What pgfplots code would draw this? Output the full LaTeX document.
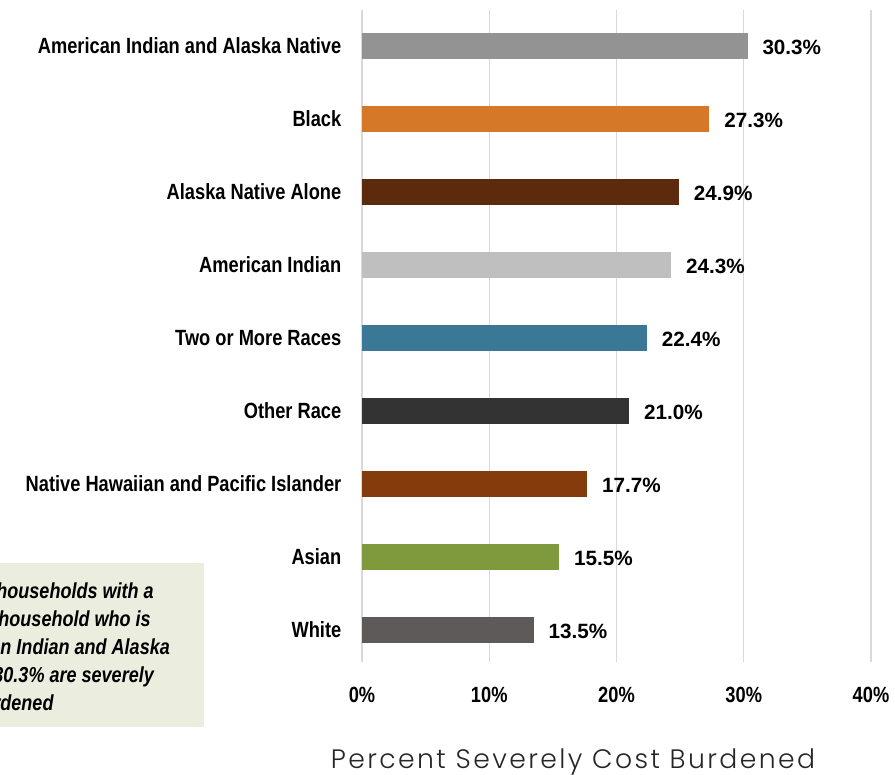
\documentclass[border=0pt]{standalone}
\usepackage{fontspec}
\setmainfont{Liberation Sans}[FakeStretch=0.83]
\newfontfamily\vfont{Liberation Sans}
\IfFontExistsTF{Poppins Light}{\newfontfamily\thinfont{Poppins Light}[LetterSpace=9]}{\newfontfamily\thinfont{Poppins}[LetterSpace=9]}
\usepackage{pgfplots}
\pgfplotsset{compat=1.18}
\definecolor{cAIAN}{HTML}{939393}
\definecolor{cBlack}{HTML}{D57828}
\definecolor{cANA}{HTML}{5C2B0D}
\definecolor{cAI}{HTML}{BFBFBF}
\definecolor{cTwo}{HTML}{3B7895}
\definecolor{cOther}{HTML}{333333}
\definecolor{cNHPI}{HTML}{843C0C}
\definecolor{cAsian}{HTML}{7E9A3C}
\definecolor{cWhite}{HTML}{5E5A5A}
\definecolor{boxgreen}{HTML}{EBEEDF}
\definecolor{gridgray}{HTML}{D9D9D9}
\begin{document}
\begin{tikzpicture}[x=0.75pt,y=0.75pt]
\fill[boxgreen] (0,47) rectangle (204,211);
\node[anchor=north west, align=left, inner sep=0,
      font=\fontsize{16.3}{21}\selectfont\bfseries\itshape] at (-71,192)
  {Among households with a\\head of household who is\\American Indian and Alaska\\Native, 30.3\% are severely\\cost burdened};
\begin{axis}[
  at={(271.5pt,84pt)}, anchor=south west,
  scale only axis, width=381.75pt, height=489pt,
  xbar, bar shift=0pt, bar width=19.5pt,
  xmin=0, xmax=40, ymin=-0.44, ymax=8.49,
  enlargelimits=false, clip=false,
  axis line style={draw=none},
  major tick length=0pt,
  xmajorgrids, grid style={gridgray, line width=1.1pt},
  xtick={0,10,20,30,40},
  xticklabels={0\%,10\%,20\%,30\%,40\%},
  ytick={0,1,2,3,4,5,6,7,8},
  yticklabels={White,Asian,Native Hawaiian and Pacific Islander,Other Race,Two or More Races,American Indian,Alaska Native Alone,Black,American Indian and Alaska Native},
  tick label style={font=\fontsize{16.5}{18}\selectfont\bfseries, text=black},
  yticklabel style={xshift=-12pt},
  xticklabel style={yshift=-15pt},
  /pgf/number format/assume math mode=true,
  point meta=x,
  nodes near coords={\pgfmathprintnumber[fixed,fixed zerofill,precision=1]{\pgfplotspointmeta}\%},
  nodes near coords style={anchor=west, inner sep=0pt, xshift=11pt, yshift=-1.5pt, font=\vfont\fontsize{15.5}{18}\selectfont\bfseries, text=black},
]
\addplot[fill=cWhite, draw=none] coordinates {(13.5,0)};
\addplot[fill=cAsian, draw=none] coordinates {(15.5,1)};
\addplot[fill=cNHPI, draw=none] coordinates {(17.7,2)};
\addplot[fill=cOther, draw=none] coordinates {(21.0,3)};
\addplot[fill=cTwo, draw=none] coordinates {(22.4,4)};
\addplot[fill=cAI, draw=none] coordinates {(24.3,5)};
\addplot[fill=cANA, draw=none] coordinates {(24.9,6)};
\addplot[fill=cBlack, draw=none] coordinates {(27.3,7)};
\addplot[fill=cAIAN, draw=none] coordinates {(30.3,8)};
\end{axis}
\node[font=\thinfont\fontsize{20}{22}\selectfont, text=black!85] at (573,12) {Percent Severely Cost Burdened};
\pgfresetboundingbox
\useasboundingbox (0,0) rectangle (895,774);
\end{tikzpicture}
\end{document}
